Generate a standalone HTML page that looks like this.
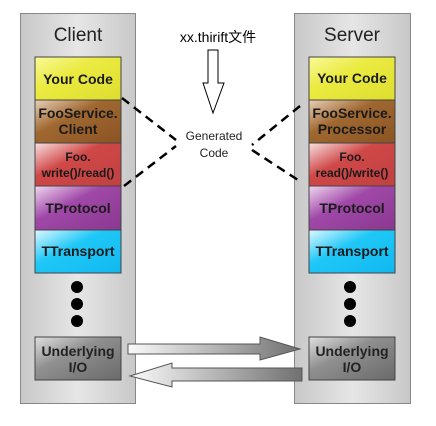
<!DOCTYPE html>
<html><head><meta charset="utf-8"><style>
body{margin:0;background:#fff;width:436px;height:421px;overflow:hidden;font-family:"Liberation Sans","Noto Sans CJK SC",sans-serif}
</style></head><body>
<svg width="436" height="421" xmlns="http://www.w3.org/2000/svg" font-family="Liberation Sans, Noto Sans CJK SC, sans-serif">
<defs>
<linearGradient id="pan" x1="0" x2="1"><stop offset="0" stop-color="#c8c8c8"/><stop offset="0.5" stop-color="#e6e6e6"/><stop offset="1" stop-color="#c8c8c8"/></linearGradient>
<linearGradient id="y" x1="0" y1="0" x2="1" y2="1"><stop offset="0" stop-color="#fafa9a"/><stop offset="0.4" stop-color="#eaea40"/><stop offset="1" stop-color="#dede30"/></linearGradient>
<linearGradient id="b" x1="0" y1="0" x2="1" y2="1"><stop offset="0" stop-color="#e8d0b8"/><stop offset="0.4" stop-color="#a06830"/><stop offset="1" stop-color="#8a5424"/></linearGradient>
<linearGradient id="r" x1="0" y1="0" x2="1" y2="1"><stop offset="0" stop-color="#f8e0e0"/><stop offset="0.4" stop-color="#d04848"/><stop offset="1" stop-color="#c04040"/></linearGradient>
<linearGradient id="p" x1="0" y1="0" x2="1" y2="1"><stop offset="0" stop-color="#f0d8f0"/><stop offset="0.4" stop-color="#a048a8"/><stop offset="1" stop-color="#8a3890"/></linearGradient>
<linearGradient id="c" x1="0" y1="0" x2="1" y2="1"><stop offset="0" stop-color="#e0f8ff"/><stop offset="0.4" stop-color="#20c8f8"/><stop offset="1" stop-color="#10b8f0"/></linearGradient>
<linearGradient id="g" x1="0" y1="0" x2="1" y2="1"><stop offset="0" stop-color="#e0e0e0"/><stop offset="0.4" stop-color="#909090"/><stop offset="1" stop-color="#6a6a6a"/></linearGradient>
<linearGradient id="ar" x1="0" x2="1"><stop offset="0" stop-color="#fafafa"/><stop offset="1" stop-color="#707070"/></linearGradient>
<linearGradient id="al" x1="1" x2="0"><stop offset="0" stop-color="#707070"/><stop offset="1" stop-color="#fafafa"/></linearGradient>
</defs>
<g stroke="#888" stroke-width="1">
<rect x="20.5" y="13.5" width="115" height="390" fill="url(#pan)"/>
<rect x="294.5" y="13.5" width="116" height="390" fill="url(#pan)"/>
</g>
<text x="78" y="41" font-size="19" text-anchor="middle" fill="#222">Client</text>
<text x="352" y="41" font-size="19" text-anchor="middle" fill="#222">Server</text>
<g stroke="#444" stroke-width="1">
<rect x="35" y="57" width="86" height="43" fill="url(#y)"/>
<rect x="35" y="100" width="86" height="43" fill="url(#b)"/>
<rect x="35" y="143" width="86" height="43" fill="url(#r)"/>
<rect x="35" y="186" width="86" height="44" fill="url(#p)"/>
<rect x="35" y="230" width="86" height="43" fill="url(#c)"/>
<rect x="35" y="337" width="86" height="43" fill="url(#g)"/>
<rect x="309" y="57" width="86" height="43" fill="url(#y)"/>
<rect x="309" y="100" width="86" height="43" fill="url(#b)"/>
<rect x="309" y="143" width="86" height="43" fill="url(#r)"/>
<rect x="309" y="186" width="86" height="44" fill="url(#p)"/>
<rect x="309" y="230" width="86" height="43" fill="url(#c)"/>
<rect x="309" y="337" width="86" height="43" fill="url(#g)"/>
</g>
<g font-weight="bold" fill="#1a1a1a" text-anchor="middle">
<text x="78" y="84" font-size="14">Your Code</text>
<text x="78" y="118" font-size="14">FooService.</text>
<text x="78" y="134" font-size="14">Client</text>
<text x="78" y="161" font-size="12">Foo.</text>
<text x="78" y="177" font-size="12">write()/read()</text>
<text x="78" y="213" font-size="14">TProtocol</text>
<text x="78" y="256" font-size="14">TTransport</text>
<text x="78" y="356" font-size="14" fill="#222">Underlying</text>
<text x="78" y="372" font-size="14" fill="#222">I/O</text>
<text x="352" y="83" font-size="14">Your Code</text>
<text x="352" y="118" font-size="14">FooService.</text>
<text x="352" y="134" font-size="14">Processor</text>
<text x="352" y="161" font-size="12">Foo.</text>
<text x="352" y="177" font-size="12">read()/write()</text>
<text x="352" y="213" font-size="14">TProtocol</text>
<text x="352" y="256" font-size="14">TTransport</text>
<text x="352" y="356" font-size="14" fill="#222">Underlying</text>
<text x="352" y="372" font-size="14" fill="#222">I/O</text>
</g>
<g fill="#000">
<circle cx="77" cy="287" r="6"/><circle cx="77" cy="304" r="6"/><circle cx="77" cy="321" r="6"/>
<circle cx="350" cy="287" r="6"/><circle cx="350" cy="304" r="6"/><circle cx="350" cy="321" r="6"/>
</g>
<text x="218" y="42" font-size="14" text-anchor="middle" fill="#000">xx.thirift文件</text>
<polygon points="208,50 218,50 218,83 224,83 213,113 203,83 208,83" fill="#fff" stroke="#000" stroke-width="1"/>
<text x="214" y="140" font-size="12" text-anchor="middle" fill="#222">Generated</text>
<text x="214" y="157" font-size="12" text-anchor="middle" fill="#222">Code</text>
<g stroke="#000" stroke-width="2.5" stroke-dasharray="9,6" fill="none">
<line x1="122" y1="98" x2="176" y2="140"/>
<line x1="124" y1="186" x2="176" y2="146"/>
<line x1="300" y1="106" x2="252" y2="145"/>
<line x1="252" y1="150" x2="298" y2="180"/>
</g>
<polygon points="128,344 260,344 260,337 300,349 260,360 260,354 128,354" fill="url(#ar)" stroke="#555"/>
<polygon points="302,368 172,368 172,363 130,376 172,387 172,381 302,381" fill="url(#al)" stroke="#555"/>
</svg>
</body></html>
